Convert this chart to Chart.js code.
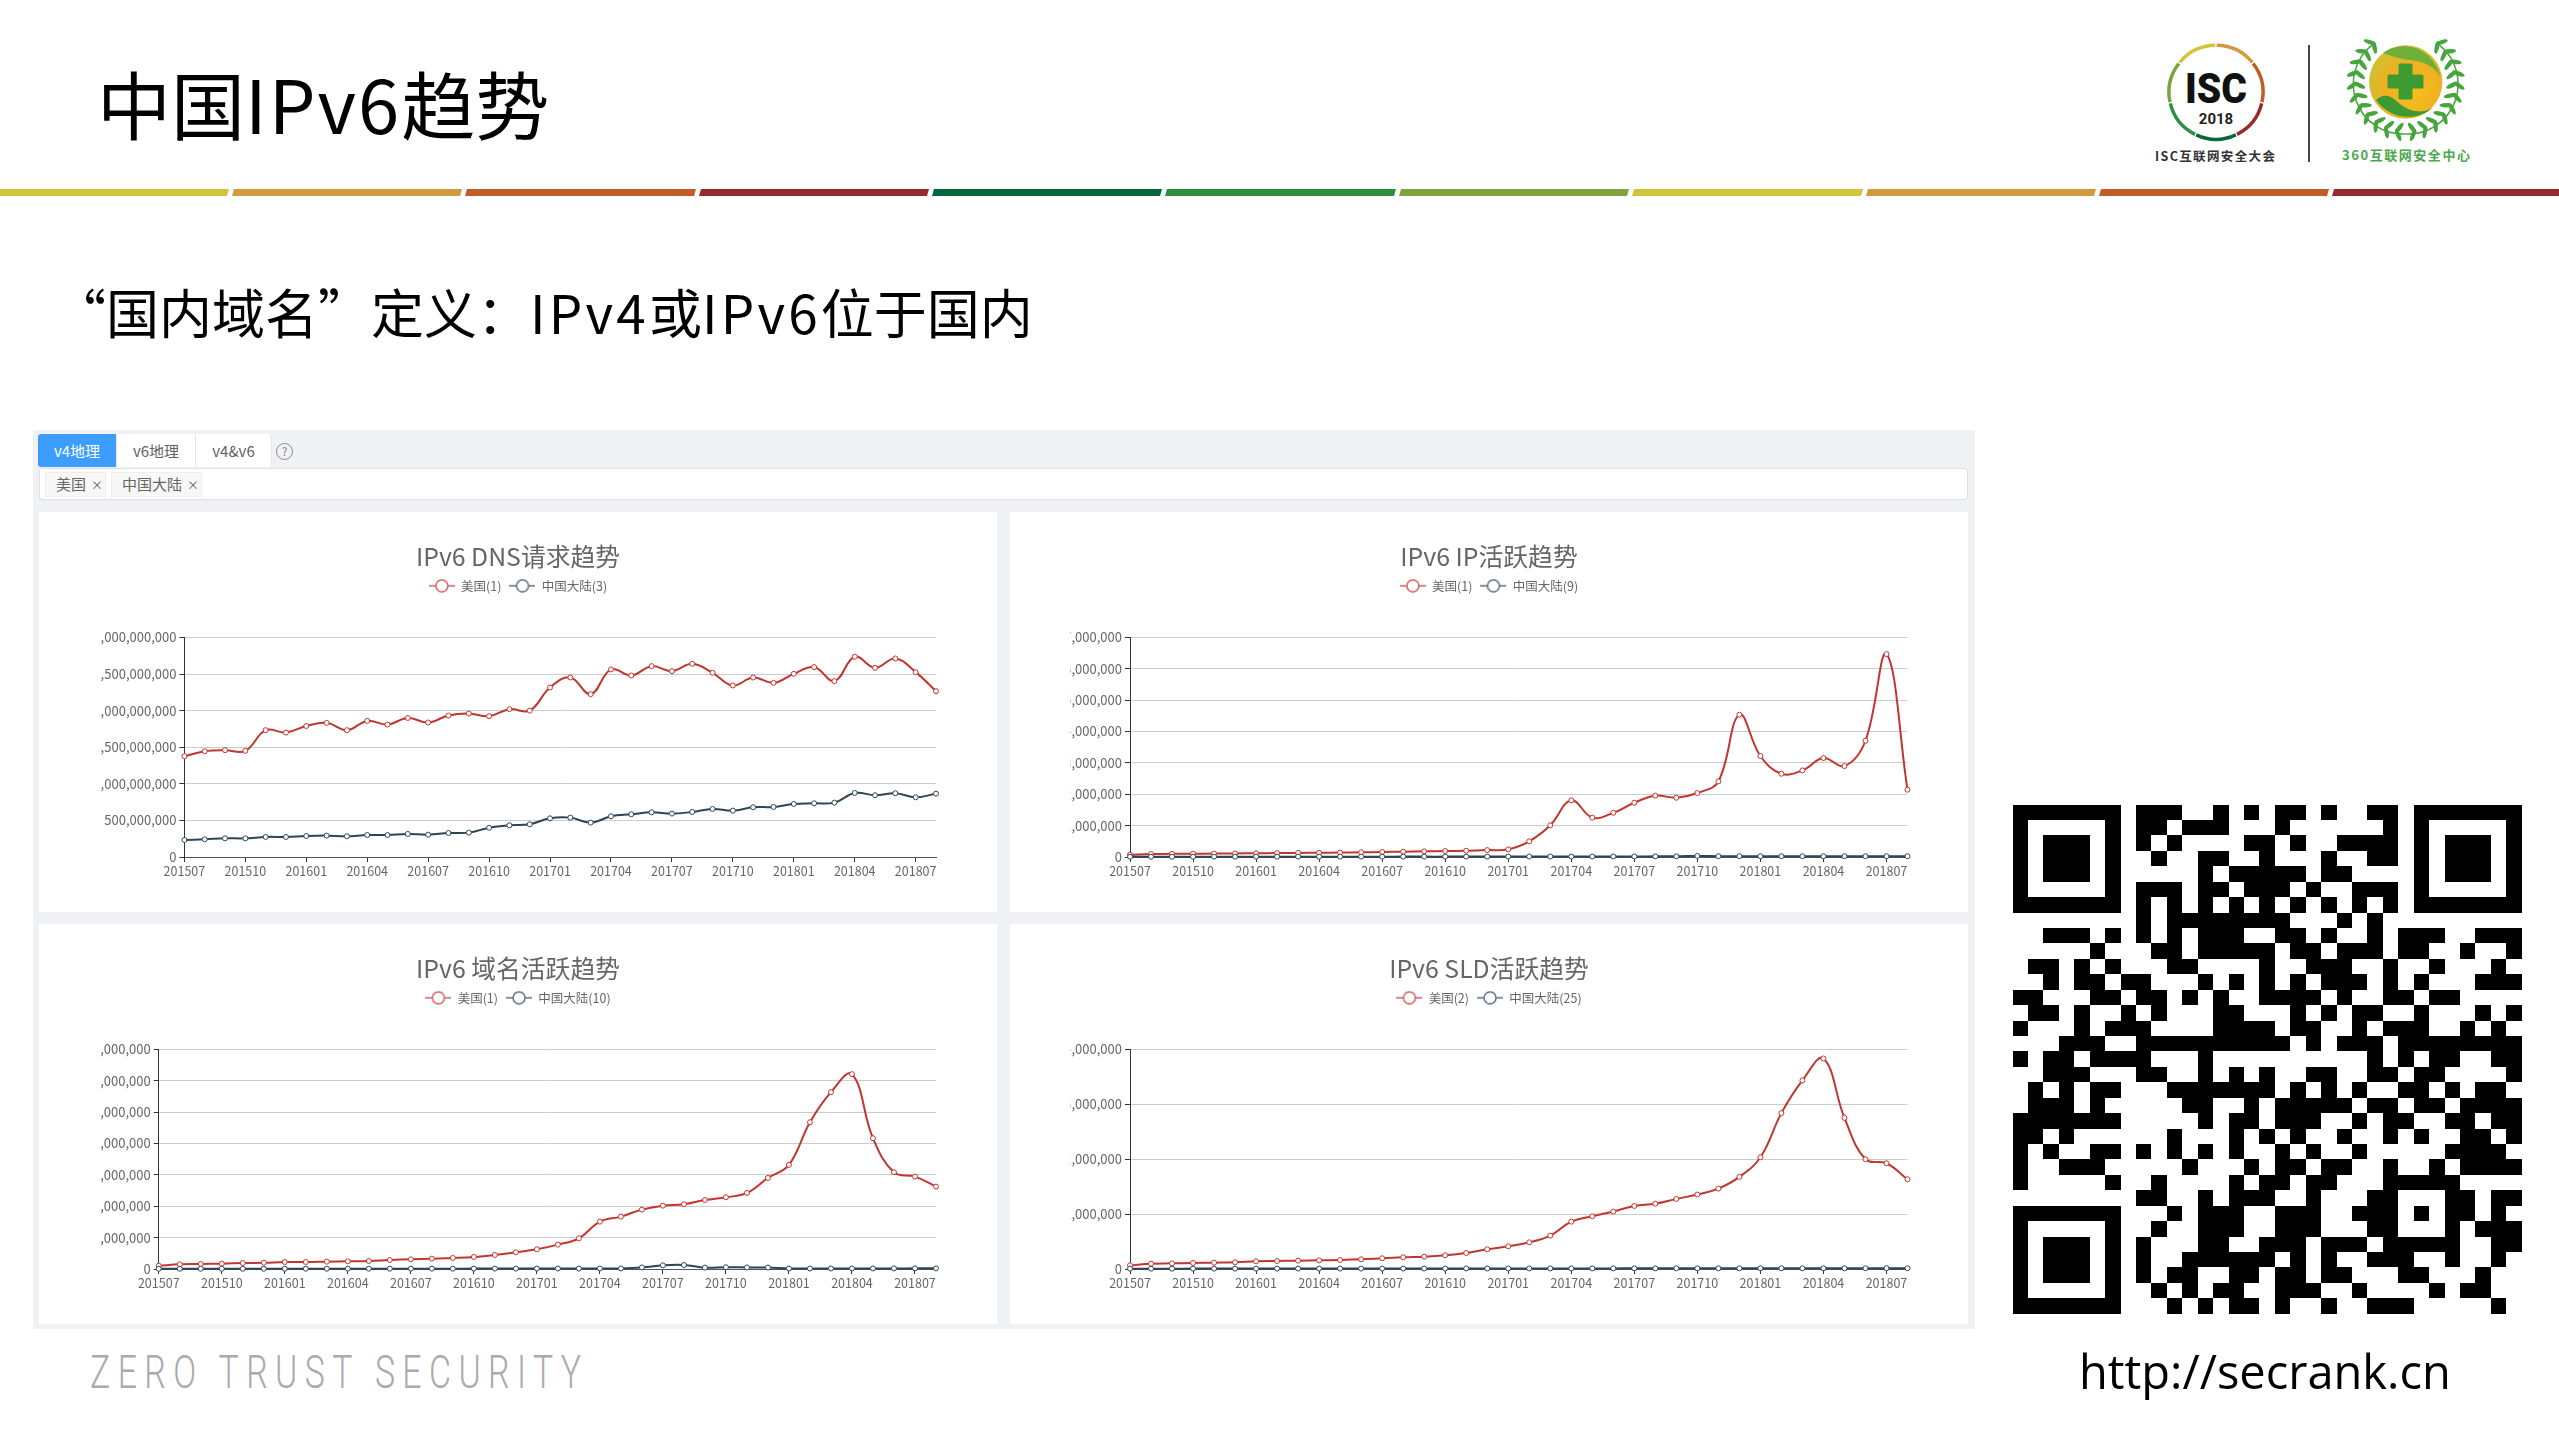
<!DOCTYPE html>
<html lang="zh-CN">
<head>
<meta charset="UTF-8">
<title>中国IPv6趋势</title>
<script src="https://cdn.jsdelivr.net/npm/chart.js"></script>
<style>
    html, body { margin: 0; padding: 0; background: #fff; }
    body { width: 2559px; height: 1439px; position: relative; overflow: hidden; font-family: "Noto Sans CJK SC", sans-serif; }
    .abs { position: absolute; white-space: nowrap; }
    #heading { left: 97px; top: 48px; font-size: 74px; line-height: 108px; color: #000; }
    #heading span { letter-spacing: 2px; }
    #sub { left: 53px; top: 275px; font-size: 53px; line-height: 72px; color: #000; }
    #sub span { letter-spacing: 3.2px; }
    #bar, #logos, #qr { position: absolute; left: 0; top: 0; }
    #panel { left: 33px; top: 430px; width: 1942px; height: 899px; background: #eff1f5; }
    .tab { position: absolute; top: 434px; height: 33px; line-height: 33px; text-align: center; font-size: 15px; color: #606266; background: #fff; border-right: 1px solid #e4e7ed; box-sizing: border-box; }
    #filter { left: 39px; top: 468px; width: 1929px; height: 32px; box-sizing: border-box; background: #fff; border: 1px solid #dcdfe6; border-radius: 3px; }
    .tag { position: absolute; top: 472px; height: 25px; line-height: 22px; font-size: 15px; color: #666; background: #f7f7f7; border: 1px solid #eee; box-sizing: border-box; padding-left: 10px; white-space: nowrap; }
    .tag i { font-style: normal; font-size: 12px; margin-left: 5px; }
    #help { left: 276px; top: 443px; width: 15px; height: 15px; line-height: 15px; border: 1px solid #888; border-radius: 50%; text-align: center; font-size: 11px; color: #777; }
    .card { position: absolute; background: #fff; }
    .card canvas { filter: blur(0.4px); }
    #zero { left: 90px; top: 1340px; font-family: Roboto, sans-serif; font-weight: 300; font-size: 47px; line-height: 64px; letter-spacing: 10.3px; color: #aaa; transform: scaleX(0.72); transform-origin: left center; }
    #url { left: 2079px; top: 1336px; font-family: "Open Sans", sans-serif; font-size: 47px; line-height: 70px; color: #000; }
</style>
</head>
<body>
<div class="abs" id="heading">中国<span>IPv6</span>趋势</div>
<div class="abs" id="sub">“国内域名”定义：<span>IPv4</span>或<span>IPv6</span>位于国内</div>
<svg id="bar" width="2559" height="210"></svg>
<svg id="logos" width="2559" height="210"></svg>

<div class="abs" id="panel"></div>
<div class="tab" style="left:38px;width:79px;background:#3c9dff;color:#fff;border-radius:3px 0 0 3px;">v4地理</div>
<div class="tab" style="left:117px;width:79px;">v6地理</div>
<div class="tab" style="left:196px;width:76px;border-radius:0 3px 3px 0;">v4&amp;v6</div>
<div class="abs" id="help">?</div>
<div class="abs" id="filter"></div>
<div class="tag" style="left:45px;width:61px;">美国<i>×</i></div>
<div class="tag" style="left:111px;width:91px;">中国大陆<i>×</i></div>

<div class="card" style="left:39px;top:512px;"><canvas id="dnsChart"></canvas></div>
<div class="card" style="left:1010px;top:512px;"><canvas id="ipChart"></canvas></div>
<div class="card" style="left:39px;top:924px;"><canvas id="domainChart"></canvas></div>
<div class="card" style="left:1010px;top:924px;"><canvas id="sldChart"></canvas></div>

<div class="abs" id="zero">ZERO TRUST SECURITY</div>
<svg id="qr" width="2559" height="1439"></svg>
<div class="abs" id="url">http://secrank.cn</div>

<script>
const months = ['201507','201508','201509','201510','201511','201512',
    '201601','201602','201603','201604','201605','201606','201607','201608','201609','201610','201611','201612',
    '201701','201702','201703','201704','201705','201706','201707','201708','201709','201710','201711','201712',
    '201801','201802','201803','201804','201805','201806','201807','201808'];

const usDns = [1377,1445,1460,1450,1733,1700,1790,1833,1733,1860,1810,1900,1838,1933,1960,1924,2020,2000,
    2316,2453,2225,2563,2480,2608,2540,2640,2517,2344,2453,2380,2503,2595,2403,2736,2585,2713,2526,2266];
const cnDns = [233,242,255,255,274,274,287,292,283,300,300,315,305,328,333,400,433,447,
    529,538,470,556,584,611,593,616,657,634,680,684,725,734,743,875,844,871,816,866];

const usIp = [75,95,100,105,110,115,120,125,130,135,140,150,160,170,180,190,200,220,
    245,500,1010,1806,1253,1410,1730,1955,1890,2040,2410,4536,3220,2655,2760,3155,2900,3707,6470,2146];
const cnIp = [8,8,8,9,9,9,10,10,10,10,11,11,11,12,12,12,13,13,
    14,14,15,15,16,16,18,20,22,35,25,25,25,25,24,24,24,25,26,25];

const usDomain = [106,149,160,170,190,200,223,223,234,245,255,287,310,330,351,383,447,532,
    628,777,979,1510,1670,1894,2020,2064,2200,2287,2426,2904,3320,4680,5638,6213,4170,3085,2947,2628];
const cnDomain = [8,8,8,8,9,9,9,9,9,10,10,10,10,11,11,12,12,13,
    14,15,15,16,18,50,117,128,43,55,50,45,15,16,17,18,18,19,20,20];

const usSld = [67,97,103,110,115,122,140,146,152,158,164,176,195,213,225,250,292,359,
    413,486,608,863,960,1046,1149,1190,1277,1356,1465,1678,2036,2840,3435,3836,2754,2000,1927,1635];
const cnSld = [6,6,6,7,7,7,7,8,8,8,8,8,9,9,9,9,10,10,
    10,10,11,11,11,11,12,12,12,12,12,13,13,13,13,13,13,14,14,14];

const dnsTitle = 'IPv6 DNS请求趋势';
const ipTitle = 'IPv6 IP活跃趋势';
const domainTitle = 'IPv6 域名活跃趋势';
const sldTitle = 'IPv6 SLD活跃趋势';

const dnsLegend = ['美国(1)', '中国大陆(3)'];
const ipLegend = ['美国(1)', '中国大陆(9)'];
const domainLegend = ['美国(1)', '中国大陆(10)'];
const sldLegend = ['美国(2)', '中国大陆(25)'];

const RED = '#c23531', DARK = '#2f4554';
const FONT = '"Noto Sans CJK SC", sans-serif';

// legend swatch: short line with an open circle on it
function legendIcon(color) {
    const c = document.createElement('canvas');
    c.width = 26; c.height = 14;
    const g = c.getContext('2d');
    g.strokeStyle = color;
    g.lineWidth = 1.5;
    g.beginPath(); g.moveTo(0, 7); g.lineTo(26, 7); g.stroke();
    g.fillStyle = '#fff';
    g.beginPath(); g.arc(13, 7, 6, 0, Math.PI * 2); g.fill(); g.stroke();
    return c;
}
const icons = [legendIcon('#d0605c'), legendIcon('#5a7080')];

// chart.js stacks title and legend directly on the plot, so stretch the legend box
const legendGap = {
    id: 'legendGap',
    beforeInit(chart) {
        const fit = chart.legend.fit;
        chart.legend.fit = function () {
            fit.call(this);
            this.height = 65.9;
        };
    }
};

function makeChart(id, title, names, us, cn, unit, max, step, leftWidth, sidePad) {
    const canvas = document.getElementById(id);
    canvas.width = 958;
    canvas.height = 400;
    return new Chart(canvas, {
        type: 'line',
        plugins: [legendGap],
        data: {
            labels: months,
            datasets: [
                { label: names[0], data: us.map(v => v * unit), borderColor: RED, order: 2 },
                { label: names[1], data: cn.map(v => v * unit), borderColor: DARK, order: 1 }
            ]
        },
        options: {
            responsive: false,
            animation: false,
            clip: false,
            // same padding both sides keeps title and legend on the card centre
            layout: { autoPadding: false, padding: { left: sidePad, right: sidePad } },
            elements: {
                line: { borderWidth: 2, tension: 0.4, fill: false },
                point: { radius: 2.5, borderWidth: 1, backgroundColor: '#fff' }
            },
            plugins: {
                title: {
                    display: true,
                    text: title,
                    color: '#666',
                    font: { family: FONT, size: 24.8, weight: 'normal' },
                    padding: { top: 29.8, bottom: 0 }
                },
                legend: {
                    labels: {
                        usePointStyle: true,
                        pointStyleWidth: 26,
                        padding: 8,
                        color: '#666',
                        font: { family: FONT, size: 12.5 },
                        sort: (a, b) => a.datasetIndex - b.datasetIndex,
                        generateLabels: c => Chart.defaults.plugins.legend.labels.generateLabels(c)
                            .map(item => ({ ...item, pointStyle: icons[item.datasetIndex] }))
                    }
                },
                tooltip: { enabled: false }
            },
            scales: {
                x: {
                    afterFit: s => { s.height = 55; },
                    afterBuildTicks: s => { s.ticks = s.ticks.filter(t => t.value % 3 === 0); },
                    grid: { drawOnChartArea: false, tickLength: 5, tickColor: '#333' },
                    border: { color: '#555' },
                    ticks: { autoSkip: false, maxRotation: 0, color: '#666', padding: 2, font: { family: FONT, size: 12.5 } }
                },
                y: {
                    min: 0,
                    max: max,
                    afterFit: s => { s.width = leftWidth - sidePad; },
                    grid: { color: '#ccc', tickLength: 5, tickColor: '#333' },
                    border: { color: '#333' },
                    ticks: {
                        stepSize: step,
                        color: '#666',
                        padding: 3,
                        font: { family: FONT, size: 13 },
                        callback: v => v.toLocaleString('en-US')
                    }
                }
            }
        }
    });
}

makeChart('dnsChart', dnsTitle, dnsLegend, usDns, cnDns, 1e6, 3e9, 5e8, 145.4, 61);
makeChart('ipChart', ipTitle, ipLegend, usIp, cnIp, 1e3, 7e6, 1e6, 120, 60.5);
makeChart('domainChart', domainTitle, domainLegend, usDomain, cnDomain, 1e3, 7e6, 1e6, 119.75, 61);
makeChart('sldChart', sldTitle, sldLegend, usSld, cnSld, 1e3, 4e6, 1e6, 120, 60.5);

// coloured rule under the heading
const barStarts = [-8, 232, 465, 699, 932, 1165, 1399, 1632, 1866, 2099, 2332];
const barColors = ['#d2c53b','#d19a3c','#c25b28','#982a2e','#04663b','#2f8f40','#7fa23c','#d2c53b','#d19a3c','#c25b28','#982a2e'];
let barHtml = '';
barStarts.forEach((x, i) => {
    const end = i < 10 ? barStarts[i + 1] - 5 : 2570;
    barHtml += `<polygon points="${x + 2},189 ${end + 2},189 ${end},196 ${x},196" fill="${barColors[i]}"/>`;
});
document.getElementById('bar').innerHTML = barHtml;

// logos top right
function arcPath(cx, cy, r, a0, a1) {
    const p = a => [cx + r * Math.cos(a * Math.PI / 180), cy + r * Math.sin(a * Math.PI / 180)];
    const s = p(a0), e = p(a1);
    return `M${s[0]} ${s[1]}A${r} ${r} 0 0 1 ${e[0]} ${e[1]}`;
}
const ringColors = ['#d19a3c','#c25b28','#982a2e','#04663b','#2f8f40','#7fa23c','#d2c53b'];
let logoHtml = `<defs><radialGradient id="ball" cx="60%" cy="62%" r="62%"><stop offset="0" stop-color="#f6c01c"/><stop offset="0.65" stop-color="#eeb022"/><stop offset="1" stop-color="#cfc030"/></radialGradient></defs>`;
ringColors.forEach((col, i) => {
    const a = -90 + i * 360 / 7;
    logoHtml += `<path d="${arcPath(2216, 92.3, 47, a + 0.8, a + 360 / 7 - 0.8)}" fill="none" stroke="${col}" stroke-width="3.5"/>`;
});
logoHtml += `<text x="2216" y="103" text-anchor="middle" font-family="Roboto, sans-serif" font-weight="900" font-size="43" fill="#111" textLength="62" lengthAdjust="spacingAndGlyphs">ISC</text>`;
logoHtml += `<text x="2216" y="124" text-anchor="middle" font-family="Roboto, sans-serif" font-weight="700" font-size="15" fill="#222">2018</text>`;
logoHtml += `<text x="2215" y="161" text-anchor="middle" font-family="${FONT.replace(/"/g, "'")}" font-weight="700" font-size="12.5" fill="#333" textLength="120">ISC互联网安全大会</text>`;
logoHtml += `<rect x="2308" y="45" width="2" height="117" fill="#444"/>`;
// wreath: stem plus paired leaves down each side
for (let side = -1; side <= 1; side += 2) {
    const sx = 2405.7 + side * 50 * Math.cos(-48 * Math.PI / 180), sy = 82 + 50 * Math.sin(-48 * Math.PI / 180);
    logoHtml += `<path d="M${sx} ${sy}A50 50 0 0 ${side > 0 ? 1 : 0} 2405.7 134" fill="none" stroke="#46a53c" stroke-width="1.5"/>`;
    for (let i = 0; i < 11; i++) {
        const deg = -48 + i * 13;
        const a = deg * Math.PI / 180;
        const x = 2405.7 + side * 50 * Math.cos(a);
        const y = 82 + 50 * Math.sin(a);
        const rot = side * (deg + 90);
        const ox = side * 3.5 * Math.cos(a), oy = 3.5 * Math.sin(a);
        logoHtml += `<ellipse cx="${x + ox}" cy="${y + oy}" rx="2.2" ry="6.5" fill="#46a53c" transform="rotate(${rot + side * 30} ${x + ox} ${y + oy})"/>`;
        logoHtml += `<ellipse cx="${x - ox}" cy="${y - oy}" rx="2.2" ry="6.5" fill="#46a53c" transform="rotate(${rot - side * 30} ${x - ox} ${y - oy})"/>`;
    }
}
logoHtml += `<circle cx="2405.7" cy="82" r="39" fill="#fff"/><circle cx="2405.7" cy="82" r="36.7" fill="url(#ball)"/>`;
logoHtml += `<path d="M2383 53C2400 40 2432 44 2441 78C2436 66 2420 60 2408 60C2398 58 2390 56 2383 53Z" fill="#6fb03a"/>`;
logoHtml += `<path d="M2376 100C2384 92 2392 96 2400 104C2410 112 2422 114 2432 108C2420 120 2392 122 2376 100Z" fill="#3d9a33"/>`;
logoHtml += `<path d="M2400 65h11v11h11v11h-11v11h-11v-11h-11v-11h11z" fill="#3d9a33" stroke="#3d9a33" stroke-width="3" stroke-linejoin="round"/>`;
logoHtml += `<text x="2406" y="160" text-anchor="middle" font-family="${FONT.replace(/"/g, "'")}" font-weight="700" font-size="13" fill="#4aa84a" textLength="128">360互联网安全中心</text>`;
document.getElementById('logos').innerHTML = logoHtml;

// QR code, one entry of dark column runs per row
const qrRows = [
    '8-10 13 15 17-18 20 23-24', '8-9 11-13 17 24', '8 10 15-16 18 21-24', '9 12-13 16 20 23-24',
    '12 14-18 20-21', '8-10 12-13 15-17 19 22-24', '8 10 12 14 16 18 20 22 24', '8 10-17 21 23',
    '2-4 6 8 10 12-14 17-18 20 23 25-27 30-32', '5 9-10 12-16 18-19 21-23 25-26 29 32',
    '1-2 4 6 10-11 16 19-21 24 27 31', '2 4-5 7-8 12 14 16 18 20-22 24 26 30-32',
    '0-1 5-6 8-9 11 13 16-19 21 24-25 27-28', '1-2 4 7 9 13-14 18 20 22-23 26 30 32',
    '0 4 6-8 13-16 18-19 22 24-26 29 31', '3-5 8-17 19 21-23 25-32',
    '0 2-3 5-8 12 23 25 27-28 31-32', '2-4 8-9 12 14 16 19-20 23-24 26-27 32',
    '1 3 5-6 10-16 18 20 22 25-26 28 30-31', '1-3 5 11-12 15 17-21 23-24 26-27 29-32',
    '0-6 12 14-15 17-19 22 24-25 28-29 31-32', '0-1 3 10 14 16 18 21 24 26 29-30 32',
    '0 2 5-6 8 10 12 14 17 19 22 28-31', '0 3-5 11 15 17-18 20-21 24 27 29-32',
    '0 6 9 14 16-17 19-20 24-28', '8-9 12 14-16 19 23-24 28-29 31-32',
    '10 12-14 17-19 22-24 26 28-29 31', '9 12-14 17-19 23-24 28 30-32',
    '8 12-13 16-18 20-22 24-28 31-32', '8 11-16 18 20 23-25 28 31',
    '8 10-11 14-15 17-18 20-21 25-26 30', '9 11 13-14 17-19 22 27 29-30',
    '10 12 14-15 17 20 23-25 31'
];
const M = 15.43, QX = 2012.5, QY = 804.5;
let qrHtml = `<g transform="translate(${QX} ${QY}) scale(${M})" fill="#000" shape-rendering="crispEdges">`;
qrRows.forEach((row, r) => {
    row.split(' ').forEach(run => {
        const [a, b] = run.split('-').map(Number);
        qrHtml += `<rect x="${a}" y="${r}" width="${(b === undefined ? a : b) - a + 1}" height="1"/>`;
    });
});
[[0, 0], [26, 0], [0, 26]].forEach(([x, y]) => {
    qrHtml += `<path fill-rule="evenodd" d="M${x} ${y}h7v7h-7zM${x + 1} ${y + 1}v5h5v-5z"/><rect x="${x + 2}" y="${y + 2}" width="3" height="3"/>`;
});
qrHtml += '</g>';
document.getElementById('qr').innerHTML = qrHtml;
</script>
</body>
</html>
